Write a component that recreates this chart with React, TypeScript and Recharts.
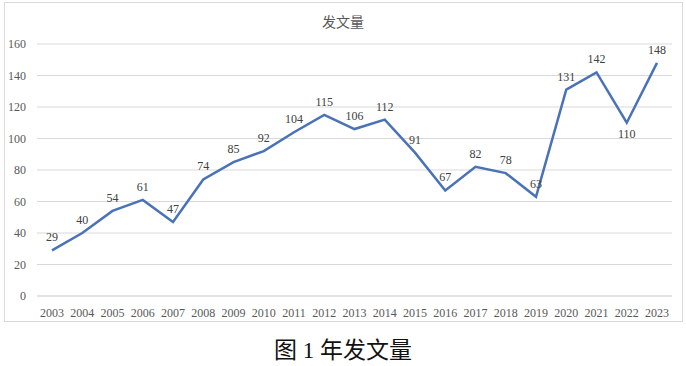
import React from 'react';
import { LineChart, Line, XAxis, YAxis, CartesianGrid, LabelList } from 'recharts';

const years = [
  '2003', '2004', '2005', '2006', '2007', '2008', '2009', '2010', '2011', '2012', '2013',
  '2014', '2015', '2016', '2017', '2018', '2019', '2020', '2021', '2022', '2023',
];
const counts = [29, 40, 54, 61, 47, 74, 85, 92, 104, 115, 106, 112, 91, 67, 82, 78, 63, 131, 142, 110, 148];
const yTicks = [0, 20, 40, 60, 80, 100, 120, 140, 160];
const labelsBelow = ['2022'];

const data = years.map((year, i) => ({ year, count: counts[i] }));

const serif = '"Liberation Serif", "Times New Roman", serif';

const XTick = ({ x, y, payload }: any) => (
  <text x={x} y={y + 13} textAnchor="middle" fill="#595959" fontSize={12} style={{ fontFamily: serif }}>
    {payload.value}
  </text>
);

const YTick = ({ x, y, payload }: any) => (
  <text x={x - 3} y={y + 4} textAnchor="end" fill="#595959" fontSize={12} style={{ fontFamily: serif }}>
    {payload.value}
  </text>
);

const PointLabel = (props: any) => {
  const { x, y, value, index } = props;
  const below = labelsBelow.includes(years[index]);
  return (
    <text
      x={x}
      y={below ? y + 15 : y - 9}
      textAnchor="middle"
      fill="#404040"
      fontSize={12}
      style={{ fontFamily: serif }}
    >
      {value}
    </text>
  );
};

export default function App() {
  return (
    <div style={{ position: 'absolute', left: 0, top: 0, width: 686, height: 366, background: '#fff' }}>
      <div
        style={{
          position: 'absolute',
          left: 4,
          top: 2,
          width: 679,
          height: 320,
          border: '1px solid #d9d9d9',
          boxSizing: 'border-box',
        }}
      />
      <div
        style={{
          position: 'absolute',
          left: 0,
          width: 686,
          top: 11,
          textAlign: 'center',
          fontSize: 14,
          color: '#595959',
          fontFamily: '"Noto Sans CJK SC", sans-serif',
          lineHeight: '20px',
        }}
      >
        发文量
      </div>
      <div style={{ position: 'absolute', left: 4, top: 2 }}>
        <LineChart width={679} height={320} data={data} margin={{ top: 42, right: 11, bottom: 0, left: 0 }}>
          <CartesianGrid stroke="#d9d9d9" vertical={false} />
          <XAxis
            dataKey="year"
            interval={0}
            height={26}
            padding={{ left: 15, right: 15 }}
            tick={<XTick />}
            tickLine={false}
            axisLine={{ stroke: '#d9d9d9' }}
          />
          <YAxis
            domain={[0, 160]}
            ticks={yTicks}
            width={33}
            tick={<YTick />}
            tickLine={false}
            axisLine={false}
          />
          <Line
            type="linear"
            dataKey="count"
            stroke="#4a72b8"
            strokeWidth={2.5}
            dot={false}
            activeDot={false}
            isAnimationActive={false}
          >
            <LabelList dataKey="count" content={<PointLabel />} />
          </Line>
        </LineChart>
      </div>
      <div
        style={{
          position: 'absolute',
          left: 0,
          width: 686,
          top: 336,
          textAlign: 'center',
          fontSize: 23,
          color: '#111',
          fontFamily: '"Liberation Serif", "Noto Sans CJK SC", serif',
          lineHeight: '30px',
        }}
      >
        图 1 年发文量
      </div>
    </div>
  );
}
